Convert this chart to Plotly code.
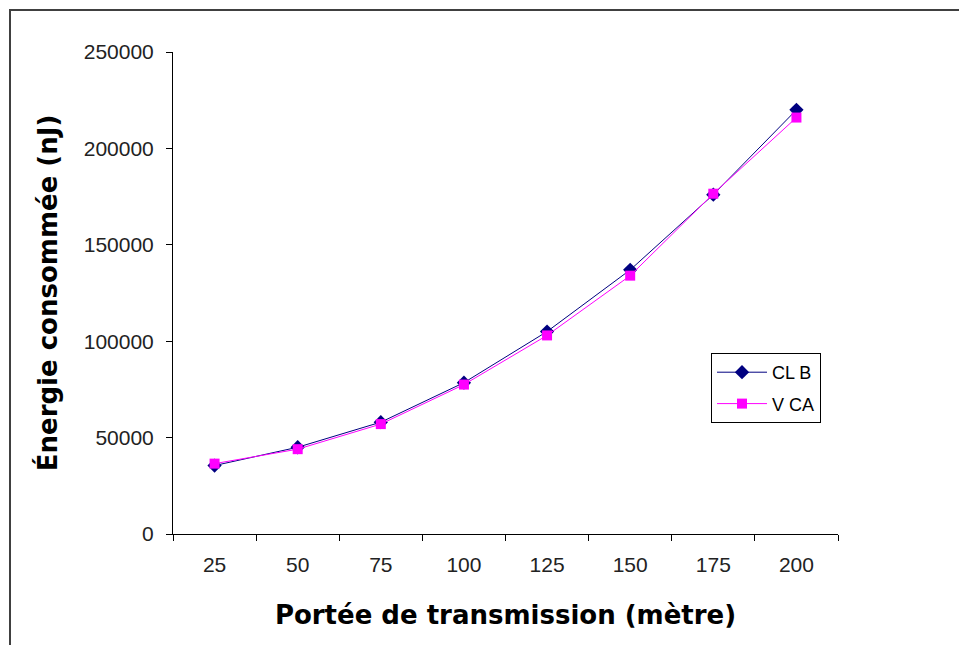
import plotly.graph_objects as go

categories = ["25", "50", "75", "100", "125", "150", "175", "200"]
clb = [35500, 45000, 58000, 78500, 105000, 137000, 176000, 220000]
vca = [36500, 44000, 57000, 77500, 103000, 134000, 176500, 216000]
y_ticks = [0, 50000, 100000, 150000, 200000, 250000]

W, H = 959, 645
L, R, T, B = 173, 838, 52, 534

fig = go.Figure()
fig.add_trace(go.Scatter(x=categories, y=clb, name="CL B", mode="lines+markers",
                         legendgroup="a",
                         line=dict(color="#000080", width=1),
                         marker=dict(symbol="diamond", size=11, color="#000080")))
fig.add_trace(go.Scatter(x=categories, y=vca, name="V CA", mode="lines+markers",
                         legendgroup="b",
                         line=dict(color="#FF00FF", width=1),
                         marker=dict(symbol="square", size=10, color="#FF00FF")))

def px_x(p):
    return (p - L) / (R - L)

def px_y(p):
    return (B - p) / (B - T)

fig.add_shape(type="rect", xref="paper", yref="paper",
              x0=px_x(10), x1=px_x(980), y0=px_y(670), y1=px_y(10),
              line=dict(color="#404040", width=2), layer="below")

title_font = "DejaVu Sans"
fig.update_layout(
    width=W, height=H,
    margin=dict(l=L, r=W - R, t=T, b=H - B),
    paper_bgcolor="white", plot_bgcolor="white",
    font=dict(family="Liberation Sans, Arial", size=21, color="#000000"),
    showlegend=True,
    legend=dict(x=px_x(711), y=px_y(353), xanchor="left", yanchor="top",
                bordercolor="#000000", borderwidth=1, bgcolor="white",
                tracegroupgap=5, itemwidth=50,
                font=dict(size=18, family="Liberation Sans, Arial")),
    xaxis=dict(type="category", range=[-0.5, 7.5], showline=True, linecolor="#000000",
               linewidth=1, ticks="outside", ticklen=6, tickcolor="#000000",
               tickson="boundaries", showgrid=False, zeroline=False,
               ticklabelstandoff=12, automargin=False,
               tickfont=dict(size=21, color="#222222"),
               title=dict(text="<b>Portée de transmission (mètre)</b>",
                          font=dict(size=26, family=title_font), standoff=30)),
    yaxis=dict(range=[0, 250000], tickvals=y_ticks, ticktext=[str(v) for v in y_ticks],
               showline=True, linecolor="#000000", linewidth=1, ticks="outside",
               ticklen=6, tickcolor="#000000", showgrid=False, zeroline=False,
               ticklabelstandoff=8, automargin=False,
               tickfont=dict(size=21, color="#222222"),
               title=dict(text="<b>Énergie consommée (nJ)</b>",
                          font=dict(size=26, family=title_font), standoff=18)),
)

fig.write_html("out.html")
